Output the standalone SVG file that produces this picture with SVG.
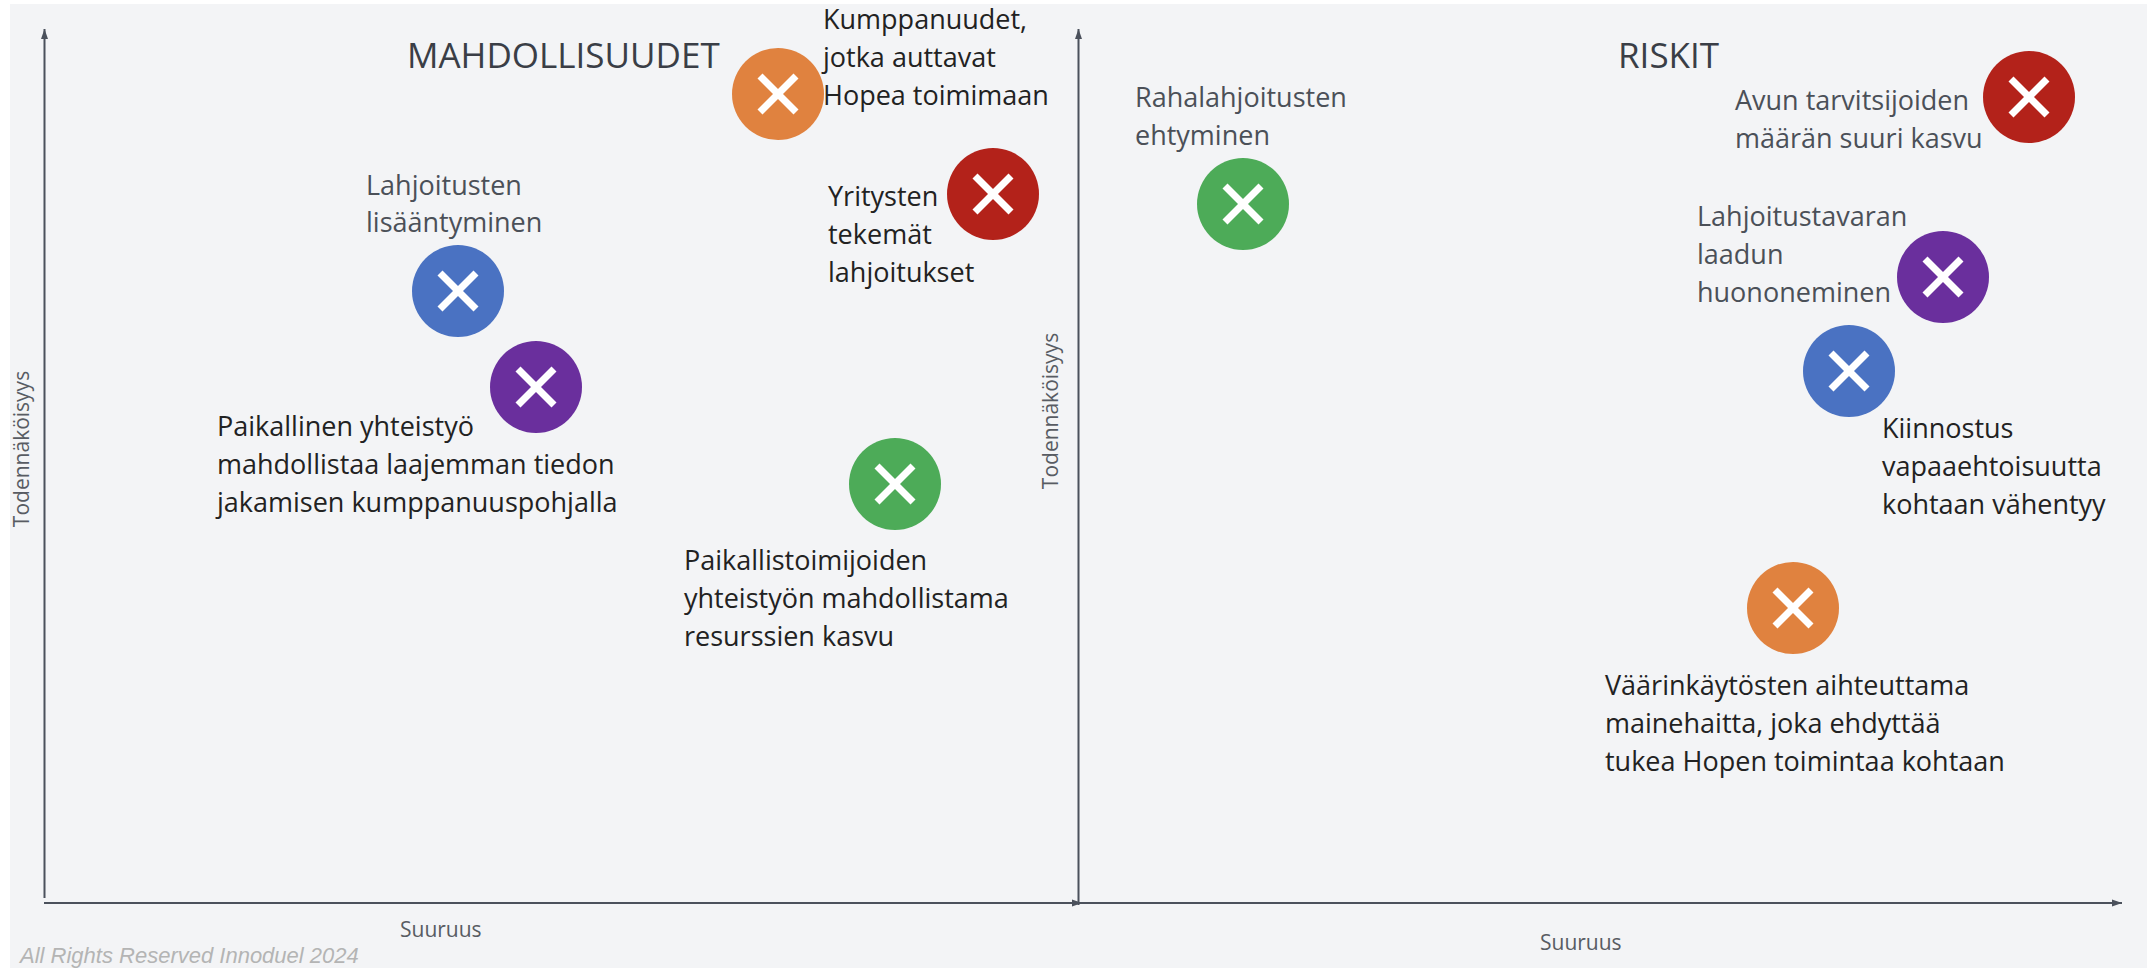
<svg xmlns="http://www.w3.org/2000/svg" width="2147" height="968" viewBox="0 0 2147 968">
<style>
.bg{fill:#f3f4f6}
.axis{stroke:#4b515c;stroke-width:2;fill:none}
.lbl{font-family:"Open Sans","Liberation Sans",sans-serif;font-size:27px}
.dark{fill:#222222}
.gray{fill:#4b5058}
.title{font-family:"Open Sans","Liberation Sans",sans-serif;font-size:35px;font-weight:400;fill:#3a3e46}
.ax{font-family:"Open Sans","Liberation Sans",sans-serif;font-size:21px;fill:#585c63}
.x{stroke:#ffffff;stroke-width:7;stroke-linecap:butt}
.orange{fill:#e0823f}
.red{fill:#b3221a}
.blue{fill:#4a72c2}
.purple{fill:#6a2f9d}
.green{fill:#4dab58}
.copy{font-family:"Liberation Sans",Arial,sans-serif;font-size:22px;font-style:italic;fill:#b4b4b4}
</style>
<defs>
<marker id="arr" viewBox="0 0 10 8" refX="10" refY="4" markerWidth="10" markerHeight="8" markerUnits="userSpaceOnUse" orient="auto">
<path d="M0,0.5 L10,4 L0,7.5 z" fill="#4b515c"/>
</marker>
<g id="xmark"><line class="x" x1="-18" y1="-18" x2="18" y2="18"/><line class="x" x1="-18" y1="18" x2="18" y2="-18"/></g>
</defs>
<rect class="bg" x="10" y="4" width="2137" height="964"/>

<g id="connectors">
<line class="axis" x1="44.5" y1="898" x2="44.5" y2="29" marker-end="url(#arr)"/>
<line class="axis" x1="44" y1="903" x2="1082" y2="903" marker-end="url(#arr)"/>
<line class="axis" x1="1078.5" y1="905" x2="1078.5" y2="29" marker-end="url(#arr)"/>
<line class="axis" x1="1082" y1="903" x2="2122" y2="903" marker-end="url(#arr)"/>
</g>

<g id="axis-labels">
<text class="ax" x="29" y="449" text-anchor="middle" transform="rotate(-90 29 449)">Todennäköisyys</text>
<text class="ax" x="1058" y="411" text-anchor="middle" transform="rotate(-90 1058 411)">Todennäköisyys</text>
<text class="ax" x="400" y="937">Suuruus</text>
<text class="ax" x="1540" y="950">Suuruus</text>
</g>

<g id="titles">
<text class="title" x="407" y="68">MAHDOLLISUUDET</text>
<text class="title" x="1618" y="68">RISKIT</text>
</g>

<g id="node-kumppanuudet">
<circle class="orange" cx="778" cy="94" r="46"/>
<use href="#xmark" x="778" y="94"/>
<text class="lbl dark"><tspan x="823" y="29">Kumppanuudet,</tspan><tspan x="823" y="67">jotka auttavat</tspan><tspan x="823" y="105">Hopea toimimaan</tspan></text>
</g>

<g id="node-yritysten">
<circle class="red" cx="993" cy="194" r="46"/>
<use href="#xmark" x="993" y="194"/>
<text class="lbl dark"><tspan x="828" y="206">Yritysten</tspan><tspan x="828" y="244">tekemät</tspan><tspan x="828" y="282">lahjoitukset</tspan></text>
</g>

<g id="node-lahjoitusten">
<circle class="blue" cx="458" cy="291" r="46"/>
<use href="#xmark" x="458" y="291"/>
<text class="lbl gray"><tspan x="366" y="195">Lahjoitusten</tspan><tspan x="366" y="232">lisääntyminen</tspan></text>
</g>

<g id="node-paikallinen">
<circle class="purple" cx="536" cy="387" r="46"/>
<use href="#xmark" x="536" y="387"/>
<text class="lbl dark"><tspan x="217" y="436">Paikallinen yhteistyö</tspan><tspan x="217" y="474">mahdollistaa laajemman tiedon</tspan><tspan x="217" y="512">jakamisen kumppanuuspohjalla</tspan></text>
</g>

<g id="node-paikallistoimijoiden">
<circle class="green" cx="895" cy="484" r="46"/>
<use href="#xmark" x="895" y="484"/>
<text class="lbl dark"><tspan x="684" y="570">Paikallistoimijoiden</tspan><tspan x="684" y="608">yhteistyön mahdollistama</tspan><tspan x="684" y="646">resurssien kasvu</tspan></text>
</g>

<g id="node-rahalahjoitusten">
<circle class="green" cx="1243" cy="204" r="46"/>
<use href="#xmark" x="1243" y="204"/>
<text class="lbl gray"><tspan x="1135" y="107">Rahalahjoitusten</tspan><tspan x="1135" y="145">ehtyminen</tspan></text>
</g>

<g id="node-avun">
<circle class="red" cx="2029" cy="97" r="46"/>
<use href="#xmark" x="2029" y="97"/>
<text class="lbl gray"><tspan x="1735" y="110">Avun tarvitsijoiden</tspan><tspan x="1735" y="148">määrän suuri kasvu</tspan></text>
</g>

<g id="node-lahjoitustavaran">
<circle class="purple" cx="1943" cy="277" r="46"/>
<use href="#xmark" x="1943" y="277"/>
<text class="lbl gray"><tspan x="1697" y="226">Lahjoitustavaran</tspan><tspan x="1697" y="264">laadun</tspan><tspan x="1697" y="302">huononeminen</tspan></text>
</g>

<g id="node-kiinnostus">
<circle class="blue" cx="1849" cy="371" r="46"/>
<use href="#xmark" x="1849" y="371"/>
<text class="lbl dark"><tspan x="1882" y="438">Kiinnostus</tspan><tspan x="1882" y="476">vapaaehtoisuutta</tspan><tspan x="1882" y="514">kohtaan vähentyy</tspan></text>
</g>

<g id="node-vaarinkaytosten">
<circle class="orange" cx="1793" cy="608" r="46"/>
<use href="#xmark" x="1793" y="608"/>
<text class="lbl dark"><tspan x="1605" y="695">Väärinkäytösten aihteuttama</tspan><tspan x="1605" y="733">mainehaitta, joka ehdyttää</tspan><tspan x="1605" y="771">tukea Hopen toimintaa kohtaan</tspan></text>
</g>

<text class="copy" x="20" y="963">All Rights Reserved Innoduel 2024</text>
</svg>
